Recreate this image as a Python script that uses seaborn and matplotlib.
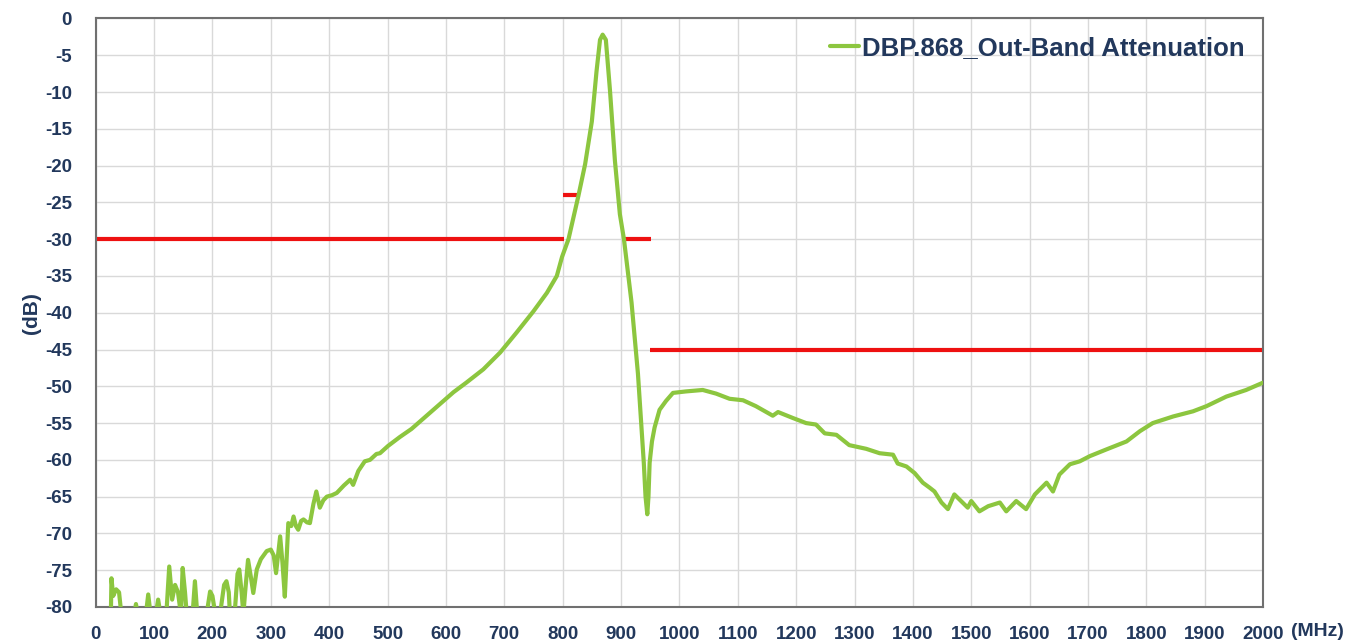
import matplotlib
matplotlib.use("Agg")
import matplotlib.pyplot as plt
import seaborn as sns
import pandas as pd

# Datos (MHz, dB)
freq_mhz = [26, 27, 30, 35, 40, 44, 66, 69, 72, 86, 90, 94, 103, 107, 111, 121, 126, 131,
            136, 141, 146, 149, 153, 156, 166, 170, 174, 190, 196, 200, 204, 213, 220, 224,
            228, 230, 238, 243, 246, 250, 253, 256, 261, 266, 270, 276, 283, 293, 300, 305,
            309, 316, 320, 324, 330, 335, 339, 343, 347, 352, 356, 362, 367, 373, 378, 384,
            390, 396, 405, 413, 425, 436, 441, 450, 461, 470, 481, 487, 501, 521, 541, 567,
            590, 613, 635, 664, 693, 721, 750, 773, 790, 799, 810, 827, 838.5, 850, 858, 864,
            868.5, 874, 881, 889.5, 898, 905, 918, 929, 939, 942, 945, 947, 949, 953, 957.5,
            966, 977, 989, 1011, 1040, 1063, 1086, 1109, 1131, 1160, 1169, 1194, 1217, 1234,
            1249, 1269, 1291, 1320, 1343, 1366, 1374, 1389, 1403, 1417, 1429, 1437, 1449,
            1460, 1471, 1480, 1494, 1500, 1514, 1529, 1549, 1560, 1577, 1594, 1609, 1629,
            1640, 1651, 1669, 1686, 1703, 1731, 1766, 1789, 1811, 1846, 1880, 1903, 1937,
            1971, 2000]
atten_db = [-81, -76.1, -78.5, -77.6, -78, -81, -81, -79.6, -81, -81, -78.3, -81, -81, -79, -81,
            -81, -74.5, -79, -77, -78, -81, -74.7, -78, -81, -81, -76.5, -81, -81, -77.9, -78.5,
            -80.5, -81, -77, -76.5, -78, -81, -81, -75.5, -74.9, -78, -81, -78, -73.6, -76,
            -78.1, -74.9, -73.5, -72.4, -72.2, -73, -75.4, -70.4, -74, -78.6, -68.6, -69, -67.7,
            -69, -69.5, -68.3, -68.1, -68.5, -68.6, -66, -64.3, -66.5, -65.5, -65, -64.8, -64.5,
            -63.5, -62.7, -63.4, -61.5, -60.2, -60, -59.2, -59.1, -58.1, -56.9, -55.8, -54.0,
            -52.4, -50.8, -49.5, -47.7, -45.4, -42.7, -39.8, -37.3, -35.0, -32.4, -30.0, -24.1,
            -19.8, -14, -7.2, -2.9, -2.2, -2.9, -9.7, -19.3, -26.6, -30, -38.6, -48.3, -60.4,
            -65, -67.4, -65, -60.4, -57.5, -55.6, -53.2, -52, -50.9, -50.7, -50.5, -51, -51.7,
            -51.9, -52.7, -54, -53.5, -54.3, -55, -55.2, -56.4, -56.6, -58, -58.5, -59.1, -59.3,
            -60.5, -60.9, -61.8, -63.1, -63.8, -64.3, -65.8, -66.7, -64.7, -65.4, -66.5, -65.6,
            -67, -66.3, -65.8, -67, -65.6, -66.7, -64.7, -63.1, -64.3, -62, -60.6, -60.2, -59.5,
            -58.6, -57.5, -56.1, -55, -54.1, -53.4, -52.7, -51.4, -50.5, -49.5]

# Limites de especificacion (lineas rojas)
spec_start = [0, 800, 905, 950]
spec_end = [803, 825, 952, 2000]
spec_level = [-30, -24, -30, -45]

serie = "DBP.868_Out-Band Attenuation"
x_ticks = list(range(0, 2001, 100))
y_ticks = list(range(-80, 1, 5))

sns.set_theme(style="whitegrid")
plt.rcParams['font.family'] = ['Liberation Sans', 'DejaVu Sans']
plt.rcParams['axes.unicode_minus'] = False
navy = '#22385c'

df = pd.DataFrame({'MHz': freq_mhz, 'dB': atten_db})

fig = plt.figure(figsize=(13.67, 6.44), dpi=100)
ax = fig.add_axes([0.070, 0.0575, 0.854, 0.9138])

ax.hlines(spec_level, spec_start, spec_end, colors='#ee1111', linewidth=3, zorder=2)
sns.lineplot(data=df, x='MHz', y='dB', color='#8cc63f', linewidth=3, estimator=None,
             label=serie, ax=ax, zorder=3)

ax.set_xlim(0, 2000)
ax.set_ylim(-80, 0)
ax.set_xticks(x_ticks)
ax.set_yticks(y_ticks)
ax.grid(True, color='#d9d9d9', linewidth=1)
ax.set_facecolor('white')
for s in ax.spines.values():
    s.set_color('#707070')
    s.set_linewidth(1.5)
ax.tick_params(direction='in', length=4, color='#707070', labelsize=13.5,
               labelcolor=navy)
ax.tick_params(axis='y', pad=17)
ax.tick_params(axis='x', pad=14)
for lab in ax.get_xticklabels() + ax.get_yticklabels():
    lab.set_fontweight('bold')

ax.set_xlabel('')
ax.set_ylabel('(dB)', fontsize=15, fontweight='bold', color=navy, labelpad=3)
fig.text(0.9445, 0.006, '(MHz)', fontsize=14, fontweight='bold', color=navy,
         ha='left', va='bottom')

leg = ax.legend(loc='upper right', frameon=False, handlelength=1.1, handletextpad=0.15,
                borderpad=0.1, borderaxespad=0.6, prop={'size': 18.5, 'weight': 'bold'})
for t in leg.get_texts():
    t.set_color(navy)

fig.savefig('out.png', dpi=100)
